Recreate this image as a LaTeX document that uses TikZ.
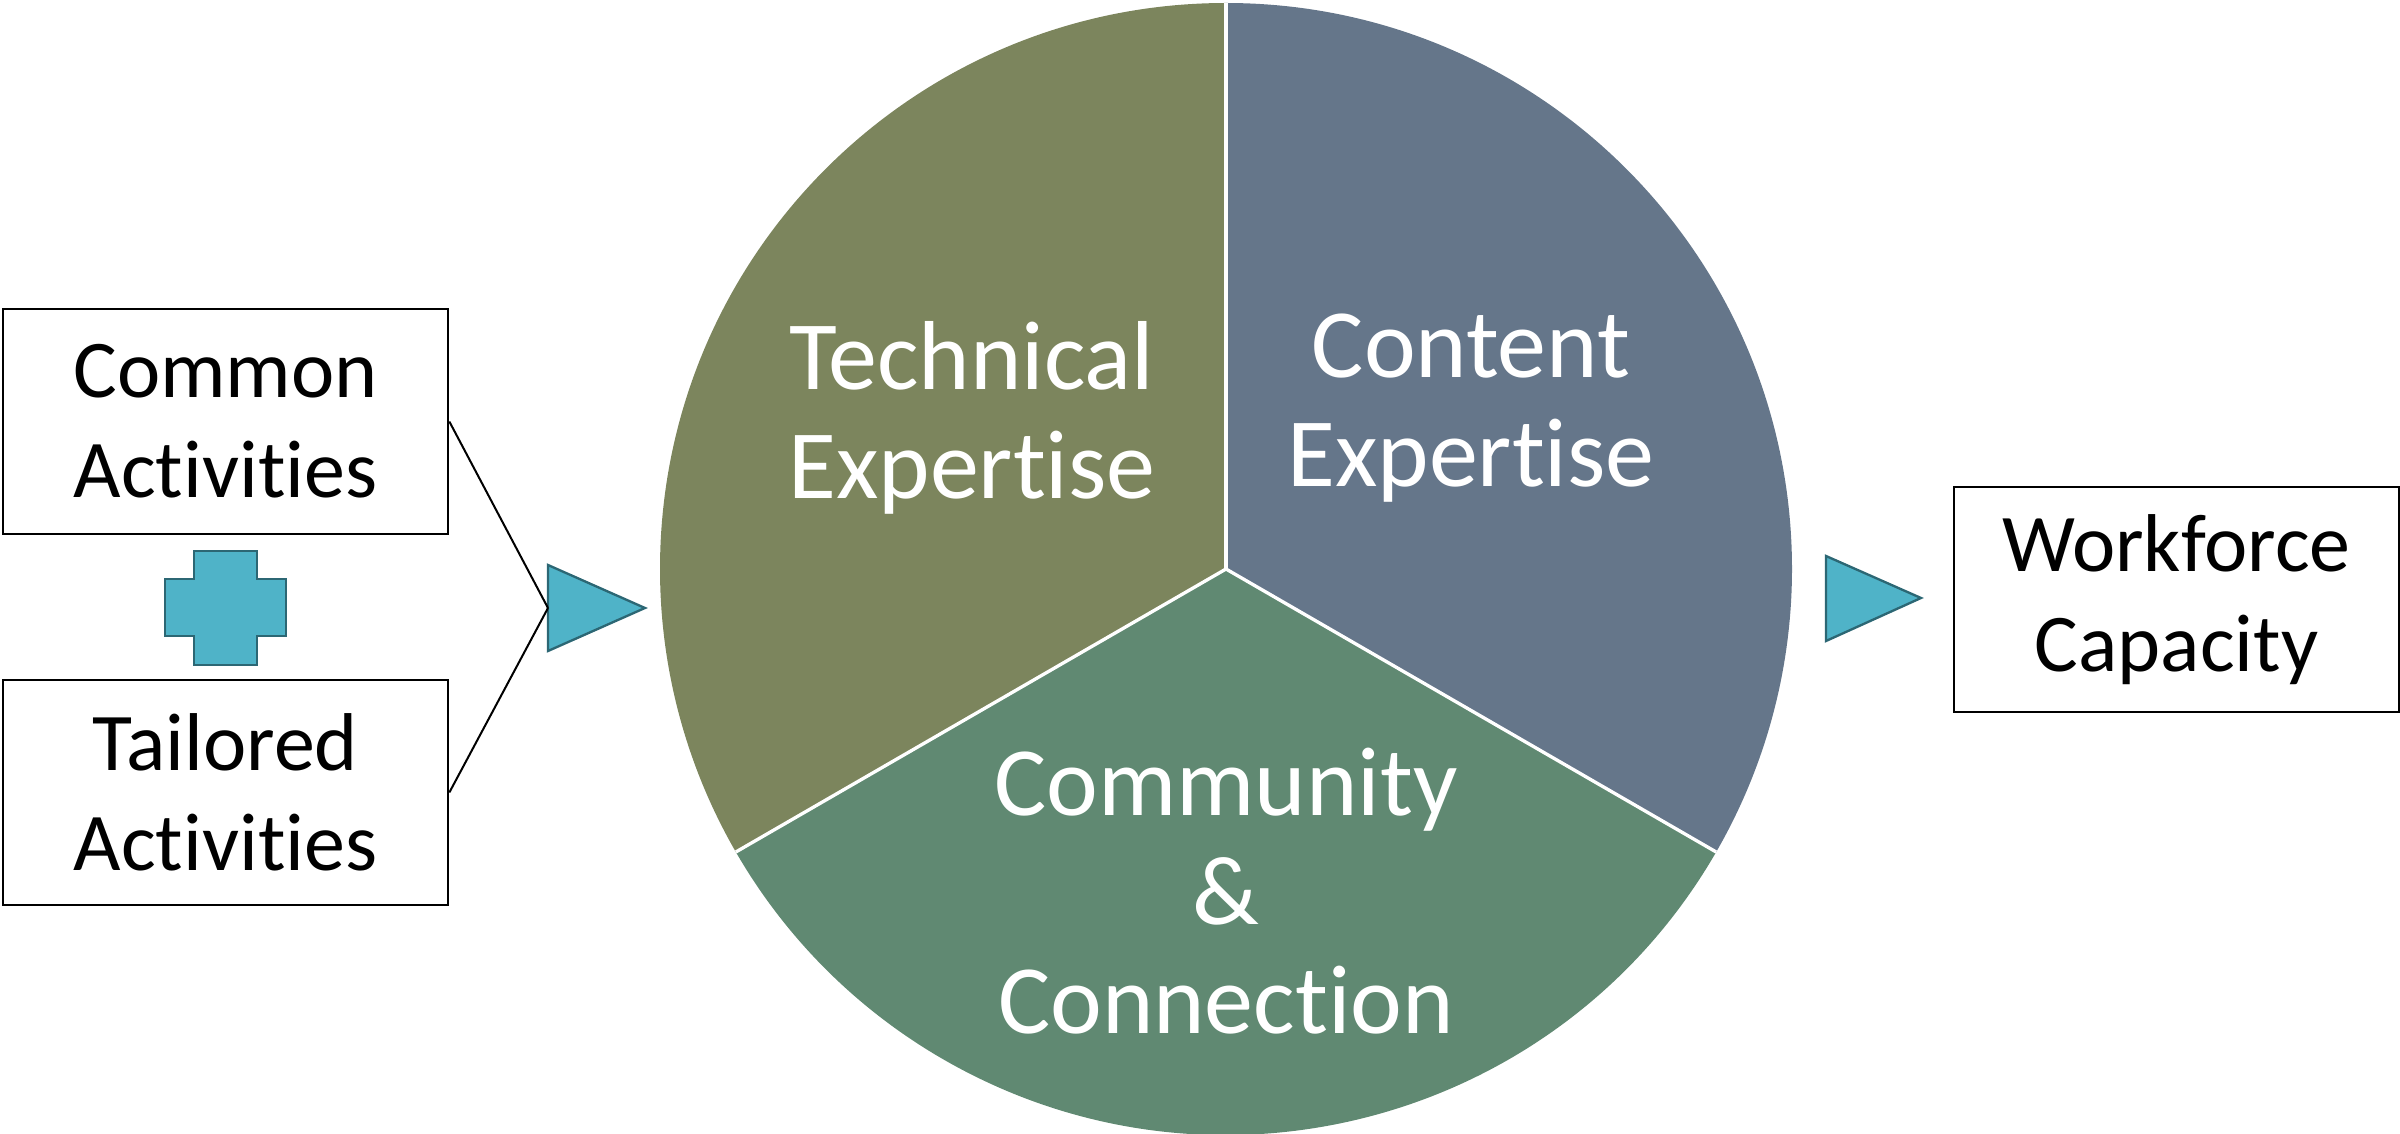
\documentclass[tikz,border=0pt]{standalone}
\usepackage{fontspec}
\setmainfont{Carlito}[RawFeature={-liga}]
\definecolor{techc}{HTML}{7C855D}
\definecolor{contc}{HTML}{65768A}
\definecolor{commc}{HTML}{608972}
\definecolor{teal}{HTML}{4FB3C8}
\definecolor{tealb}{HTML}{2C6774}
\begin{document}
\begin{tikzpicture}[x=0.3pt,y=-0.3pt,
  box/.style={draw=black,line width=0.8pt,fill=white,minimum width=133.5pt,minimum height=67.5pt,inner sep=0pt,align=center,font=\fontsize{24.6pt}{30pt}\selectfont},
  pielabel/.style={text=white,align=center,inner sep=0pt,font=\fontsize{29.4pt}{32.7pt}\selectfont},
  arrowtri/.style={fill=teal,draw=tealb,line width=0.7pt,line join=miter},
  link/.style={draw=black,line width=0.6pt}]
\useasboundingbox (0,0) rectangle (2400,1134);
% pie
\coordinate (c) at (1226,569);
\fill[techc] (c) -- ++(-90:566) arc[start angle=-90,end angle=-210,radius=566] -- cycle;
\fill[contc] (c) -- ++(-90:566) arc[start angle=-90,end angle=30,radius=566] -- cycle;
\fill[commc] (c) -- ++(30:566) arc[start angle=30,end angle=150,radius=566] -- cycle;
\draw[white,line width=1pt] (c) -- ++(-90:566);
\draw[white,line width=1pt] (c) -- ++(30:566);
\draw[white,line width=1pt] (c) -- ++(150:566);
\node[pielabel] (tech) at (972,418) {Technical\\Expertise};
\node[pielabel] (cont) at (1471,408) {Content\\Expertise};
\node[pielabel] (comm) at (1226,891) {Community\\\&\\Connection};
% boxes
\node[box] (common) at (225.5,421.5) {Common\\Activities};
\node[box] (tailored) at (225.5,792.5) {Tailored\\Activities};
\node[box] (work) at (2176.5,599.5) {Workforce\\Capacity};
% plus
\draw[arrowtri] (194,551) -- (257,551) -- (257,579) -- (286,579) -- (286,636) -- (257,636) -- (257,665) -- (194,665) -- (194,636) -- (165,636) -- (165,579) -- (194,579) -- cycle;
% triangles
\coordinate (t1) at (548,608);
\draw[arrowtri] (548,565) -- (645,608) -- (548,651) -- cycle;
\draw[arrowtri] (1826,556) -- (1921,598) -- (1826,641) -- cycle;
% connectors
\draw[link] (common.east) -- (t1);
\draw[link] (tailored.east) -- (t1);
\end{tikzpicture}
\end{document}
